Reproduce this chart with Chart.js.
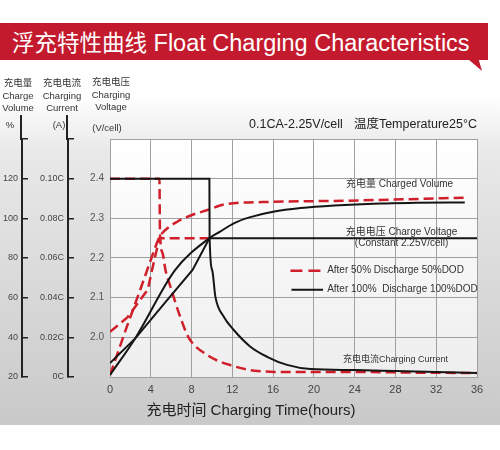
<!DOCTYPE html>
<html>
<head>
<meta charset="utf-8">
<script src="https://cdn.jsdelivr.net/npm/chart.js@4.4.1/dist/chart.umd.min.js"></script>
<style>
  html, body { margin: 0; padding: 0; }
  body {
    width: 500px; height: 450px; overflow: hidden; position: relative;
    background: linear-gradient(to bottom, #ffffff 0px, #ffffff 95px, #e9e9e9 150px, #c9c9c9 425px, #ffffff 425px);
    font-family: 'Liberation Sans', Arial, 'Noto Sans CJK SC', sans-serif;
  }
  #chart { position: absolute; left: 0; top: 0; }
  .banner {
    position: absolute; left: 0; top: 23px; width: 488px; height: 37px;
    background: #c41a2e; color: #fff; white-space: nowrap;
    line-height: 37px; padding-left: 12px; box-sizing: border-box;
  }
  .banner .cn { font-family: 'Noto Sans CJK SC', sans-serif; font-size: 22.5px; }
  .banner .en { font-size: 23.5px; }
  .tail {
    position: absolute; left: 468px; top: 59px; width: 14px; height: 12px;
    background: #c41a2e; clip-path: polygon(0 0, 75% 0, 100% 100%);
  }
  .col {
    position: absolute; top: 76px; width: 60px; margin-left: -30px;
    text-align: center; line-height: 12.5px; font-size: 9.5px; color: #333;
  }
  .col .cn { font-family: 'Noto Sans CJK SC', sans-serif; font-size: 9.5px; }
  .unit {
    position: absolute; font-size: 9.5px; color: #333; white-space: nowrap;
    transform: translate(-50%, -50%);
  }
  .cond {
    position: absolute; right: 23px; top: 116px; font-size: 12.5px; color: #222;
    white-space: nowrap; line-height: 16px;
  }
  .xtitle {
    position: absolute; left: 251px; top: 408px; transform: translate(-50%, -50%);
    font-size: 15px; color: #222; white-space: nowrap;
  }
</style>
</head>
<body>
<canvas id="chart" width="500" height="450"></canvas>

<div class="banner"><span class="cn">浮充特性曲线</span><span class="en"> Float Charging Characteristics</span></div>
<div class="tail"></div>

<div class="col" style="left:18px"><span class="cn">充电量</span><br>Charge<br>Volume</div>
<div class="col" style="left:62px"><span class="cn">充电电流</span><br>Charging<br>Current</div>
<div class="col" style="left:111px; top:75px"><span class="cn">充电电压</span><br>Charging<br>Voltage</div>
<div class="unit" style="left:10px; top:124px">%</div>
<div class="unit" style="left:59px; top:124px">(A)</div>
<div class="unit" style="left:107px; top:127px">(V/cell)</div>
<div class="cond">0.1CA-2.25V/cell<span style="margin-left:11px">温度Temperature25°C</span></div>
<div class="xtitle">充电时间 Charging Time(hours)</div>

<script>
// x axis (hours)
const hourTicks = [0, 4, 8, 12, 16, 20, 24, 28, 32, 36];

// left axes
const voltageTicks = [1.9, 2.0, 2.1, 2.2, 2.3, 2.4, 2.5];
const voltageLabels = ['', '2.0', '2.1', '2.2', '2.3', '2.4', ''];
const currentTicks = [0, 0.02, 0.04, 0.06, 0.08, 0.10, 0.12];
const currentLabels = ['0C', '0.02C', '0.04C', '0.06C', '0.08C', '0.10C', ''];
const volumeTicks = [20, 40, 60, 80, 100, 120, 140];
const volumeLabels = ['20', '40', '60', '80', '100', '120', ''];

// charge voltage (V/cell)
const voltage100Hours = [0, 2.5, 5.44, 8.1, 9.75, 36];
const voltage100 = [1.935, 1.998, 2.089, 2.17, 2.25, 2.25];
const voltage50Hours = [0, 1.7, 3.7, 4.3, 4.85, 9.75];
const voltage50 = [2.014, 2.05, 2.12, 2.19, 2.25, 2.25];

// charging current (C)
const current100Hours = [0, 9.75, 9.77, 10.02, 10.34, 11.16, 12.14, 13.77, 15.41, 17.37, 19.66, 24, 28, 32, 36];
const current100 = [0.10, 0.10, 0.0707, 0.054, 0.0404, 0.0304, 0.0237, 0.0153, 0.0102, 0.0061, 0.0040, 0.0035, 0.0030, 0.0025, 0.0020];
const current50Hours = [0, 4.85, 4.9, 5.15, 5.44, 5.93, 6.91, 7.7, 9.56, 11.8, 14.5, 17.7, 24, 30, 36];
const current50 = [0.10, 0.10, 0.073, 0.0626, 0.054, 0.0455, 0.030, 0.020, 0.011, 0.006, 0.003, 0.0025, 0.0025, 0.0022, 0.0020];

// charged volume (%)
const volume100Hours = [0, 2.5, 6.4, 9.75, 10.8, 12.14, 13.77, 16, 18.7, 22, 26.5, 30, 34.8];
const volume100 = [21, 39.7, 74, 90, 93.3, 97.5, 100.6, 103.3, 105.2, 106.5, 107.5, 107.8, 108];
const volume50Hours = [0, 1.7, 3.0, 4.0, 4.85, 5.3, 6.6, 8.1, 9.65, 11.2, 16, 23.3, 34.7];
const volume50 = [21, 46, 64.5, 79, 90.5, 93.5, 98.3, 101.8, 104.3, 107, 108.3, 108.9, 110.4];

const RED = '#d01f2b';
const BLACK = '#151515';
const DASH = [10, 5];

function pts(xs, ys) {
  return xs.map((x, i) => ({ x: x, y: ys[i] }));
}

function fixedTicks(values) {
  return function (scale) {
    scale.ticks = values.map(v => ({ value: v }));
  };
}

function fixedWidth(w) {
  return function (scale) { scale.width = w; };
}

const plotBackground = {
  id: 'plotBackground',
  beforeDraw(chart) {
    const { ctx, chartArea: a } = chart;
    const g = ctx.createLinearGradient(0, a.top, 0, a.bottom);
    g.addColorStop(0, '#ffffff');
    g.addColorStop(1, '#eeeeee');
    ctx.save();
    ctx.fillStyle = g;
    ctx.fillRect(a.left, a.top, a.right - a.left, a.bottom - a.top);
    ctx.restore();
  }
};

// the two outer axis lines run a bit above the plot
const axisExtend = {
  id: 'axisExtend',
  afterDraw(chart) {
    const ctx = chart.ctx;
    ctx.save();
    ctx.strokeStyle = '#222';
    ctx.lineWidth = 2;
    ['y1', 'y2'].forEach(id => {
      const s = chart.scales[id];
      const px = Math.round(s.right) - 1;
      ctx.beginPath();
      ctx.moveTo(px, s.top + 1);
      ctx.lineTo(px, s.top - 24);
      ctx.stroke();
    });
    ctx.restore();
  }
};

const annotations = {
  id: 'annotations',
  afterDatasetsDraw(chart) {
    const { ctx, scales } = chart;
    const x = scales.x, y = scales.y;
    const font = '"Liberation Sans", Arial, "Noto Sans CJK SC", sans-serif';
    ctx.save();
    ctx.fillStyle = '#333';
    ctx.textBaseline = 'middle';
    ctx.textAlign = 'center';
    ctx.font = '10px ' + font;
    ctx.fillText('充电量 Charged Volume', x.getPixelForValue(28.4), y.getPixelForValue(2.385));
    ctx.fillText('充电电压 Charge Voltage', x.getPixelForValue(28.6), y.getPixelForValue(2.266));
    ctx.fillText('(Constant 2.25V/cell)', x.getPixelForValue(28.6), y.getPixelForValue(2.238));
    ctx.font = '9px ' + font;
    ctx.fillText('充电电流Charging Current', x.getPixelForValue(28.0), y.getPixelForValue(1.945));

    // legend
    ctx.font = '10px ' + font;
    ctx.textAlign = 'left';
    const y50 = y.getPixelForValue(2.168);
    const y100 = y.getPixelForValue(2.12);
    ctx.lineWidth = 2.5;
    ctx.strokeStyle = RED;
    ctx.setLineDash([12, 6]);
    ctx.beginPath();
    ctx.moveTo(x.getPixelForValue(17.7), y50);
    ctx.lineTo(x.getPixelForValue(20.7), y50);
    ctx.stroke();
    ctx.setLineDash([]);
    ctx.strokeStyle = BLACK;
    ctx.lineWidth = 2;
    ctx.beginPath();
    ctx.moveTo(x.getPixelForValue(17.8), y100);
    ctx.lineTo(x.getPixelForValue(20.9), y100);
    ctx.stroke();
    ctx.fillText('After 50% Discharge 50%DOD', x.getPixelForValue(21.3), y50);
    ctx.fillText('After 100%  Discharge 100%DOD', x.getPixelForValue(21.3), y100);
    ctx.restore();
  }
};

Chart.defaults.font.family = "'Liberation Sans', Arial, sans-serif";

const solid = { borderColor: BLACK, borderWidth: 2, pointRadius: 0, fill: false };
const dashed = { borderColor: RED, borderWidth: 2.5, borderDash: DASH, pointRadius: 0, fill: false };

new Chart(document.getElementById('chart'), {
  type: 'line',
  data: {
    datasets: [
      Object.assign({ label: 'Current 100%DOD', data: pts(current100Hours, current100), yAxisID: 'y1', cubicInterpolationMode: 'monotone' }, solid),
      Object.assign({ label: 'Voltage 100%DOD', data: pts(voltage100Hours, voltage100), yAxisID: 'y', tension: 0 }, solid),
      Object.assign({ label: 'Volume 100%DOD', data: pts(volume100Hours, volume100), yAxisID: 'y2', cubicInterpolationMode: 'monotone' }, solid),
      Object.assign({ label: 'Current 50%DOD', data: pts(current50Hours, current50), yAxisID: 'y1', cubicInterpolationMode: 'monotone' }, dashed),
      Object.assign({ label: 'Voltage 50%DOD', data: pts(voltage50Hours, voltage50), yAxisID: 'y', tension: 0 }, dashed),
      Object.assign({ label: 'Volume 50%DOD', data: pts(volume50Hours, volume50), yAxisID: 'y2', cubicInterpolationMode: 'monotone' }, dashed)
    ]
  },
  options: {
    responsive: false,
    animation: false,
    events: [],
    layout: { padding: { left: 0, right: 23, top: 139, bottom: 53 } },
    plugins: { legend: { display: false }, tooltip: { enabled: false } },
    scales: {
      x: {
        type: 'linear', min: 0, max: 36,
        afterBuildTicks: fixedTicks(hourTicks),
        afterFit: function (s) { s.height = 20; },
        grid: { color: '#a0a0a0', lineWidth: 1, drawTicks: false },
        border: { color: '#a0a0a0', width: 1 },
        ticks: { color: '#444', font: { size: 11 }, padding: 6, maxRotation: 0 }
      },
      y: {
        type: 'linear', position: 'left', weight: 0, min: 1.9, max: 2.5,
        afterBuildTicks: fixedTicks(voltageTicks),
        afterFit: fixedWidth(42),
        grid: { color: '#a0a0a0', lineWidth: 1, drawTicks: false },
        border: { color: '#a0a0a0', width: 1 },
        ticks: { color: '#555', font: { size: 10 }, padding: 6, callback: (v, i) => voltageLabels[i] }
      },
      y1: {
        type: 'linear', position: 'left', weight: 1, min: 0, max: 0.12,
        afterBuildTicks: fixedTicks(currentTicks),
        afterFit: fixedWidth(46),
        grid: { drawOnChartArea: false, color: '#222', lineWidth: 1.5, tickLength: -6 },
        border: { color: '#222', width: 2 },
        ticks: { color: '#444', font: { size: 9 }, padding: 10, callback: (v, i) => currentLabels[i] }
      },
      y2: {
        type: 'linear', position: 'left', weight: 2, min: 20, max: 140,
        afterBuildTicks: fixedTicks(volumeTicks),
        afterFit: fixedWidth(22),
        grid: { drawOnChartArea: false, color: '#222', lineWidth: 1.5, tickLength: -6 },
        border: { color: '#222', width: 2 },
        ticks: { color: '#444', font: { size: 9 }, padding: 10, callback: (v, i) => volumeLabels[i] }
      }
    }
  },
  plugins: [plotBackground, axisExtend, annotations]
});
</script>
</body>
</html>
